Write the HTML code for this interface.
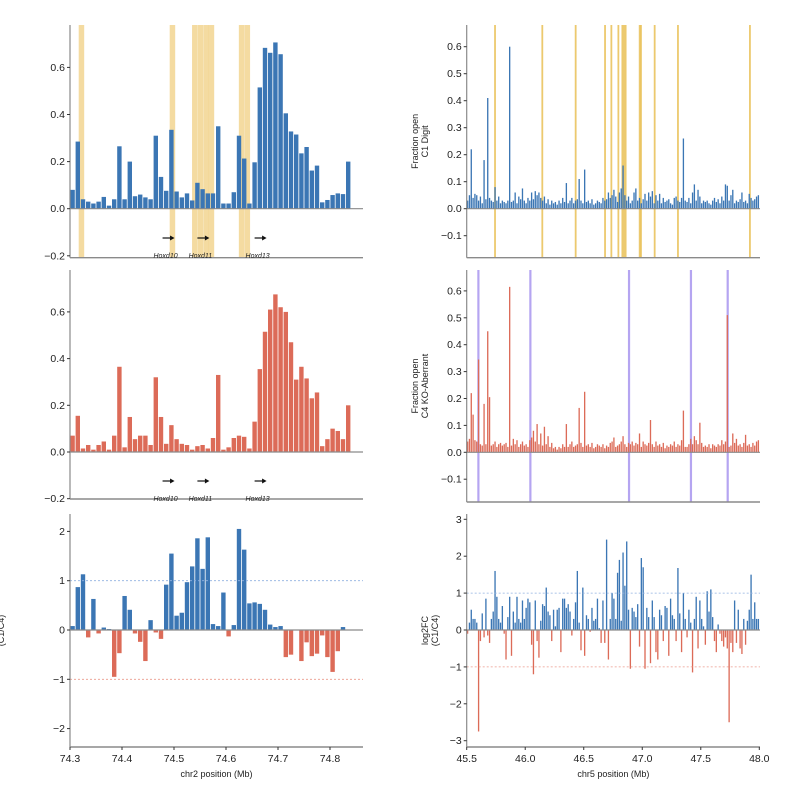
<!DOCTYPE html>
<html><head><meta charset="utf-8">
<style>
html,body{margin:0;padding:0;background:#fff;}
svg{display:block;font-family:"Liberation Sans",sans-serif;}
</style></head>
<body>
<svg id="chart" width="800" height="800" viewBox="0 0 800 800"></svg>
<script>
// ---- Left (chr2 HoxD) data: 0.01 Mb bins starting at 74.30 ----
const leftStart = 74.30;
const leftBin = 0.01;
const c1Left = [0.08,0.285,0.04,0.03,0.022,0.03,0.05,0.013,0.04,0.265,0.04,0.2,0.053,0.06,0.048,0.04,0.31,0.135,0.076,0.335,0.073,0.048,0.065,0.035,0.11,0.083,0.065,0.065,0.35,0.022,0.022,0.07,0.31,0.213,0.022,0.197,0.515,0.683,0.662,0.706,0.656,0.405,0.328,0.315,0.235,0.262,0.162,0.183,0.027,0.037,0.058,0.065,0.062,0.2];
const c4Left = [0.07,0.155,0.015,0.03,0.01,0.03,0.045,0.01,0.07,0.365,0.02,0.15,0.055,0.07,0.07,0.03,0.32,0.15,0.035,0.115,0.055,0.035,0.03,0.01,0.025,0.03,0.015,0.06,0.33,0.01,0.02,0.06,0.07,0.065,0.015,0.13,0.355,0.515,0.61,0.675,0.62,0.6,0.47,0.31,0.365,0.315,0.23,0.255,0.025,0.055,0.1,0.09,0.055,0.2];
const fcLeft = [0.08,0.87,1.13,-0.15,0.63,-0.07,0.05,0.02,-0.95,-0.47,0.69,0.41,-0.07,-0.24,-0.63,0.2,-0.05,-0.18,0.92,1.55,0.29,0.35,0.97,1.29,1.86,1.24,1.88,0.12,0.08,0.76,-0.13,0.1,2.05,1.63,0.54,0.56,0.53,0.41,0.11,0.06,0.08,-0.55,-0.5,0,-0.63,-0.25,-0.53,-0.48,-0.11,-0.55,-0.85,-0.43,0.06,0];
const leftHighlights = [74.322,74.497,74.540,74.551,74.562,74.572,74.630,74.641];
const genes = ["Hoxd10","Hoxd11","Hoxd13"];
const geneStarts = [74.478,74.545,74.655];
const leftTicks = [74.3,74.4,74.5,74.6,74.7,74.8];

// ---- Right (chr5) data ----
const rightStart = 45.5;
const rightBin = 0.015625;
const c1Right = [0.03,0.05,0.22,0.04,0.055,0.05,0.03,0.045,0.02,0.18,
0.035,0.41,0.04,0.03,0.025,0.08,0.03,0.045,0.02,0.03,
0.025,0.02,0.03,0.6,0.025,0.03,0.06,0.02,0.045,0.035,
0.075,0.03,0.02,0.04,0.03,0.06,0.035,0.065,0.05,0.06,
0.04,0.03,0.045,0.02,0.035,0.015,0.03,0.02,0.025,0.015,
0.03,0.02,0.04,0.025,0.095,0.02,0.03,0.04,0.02,0.03,
0.035,0.11,0.03,0.02,0.145,0.025,0.03,0.02,0.035,0.015,
0.02,0.03,0.025,0.02,0.04,0.03,0.035,0.06,0.04,0.05,
0.07,0.045,0.025,0.06,0.075,0.16,0.05,0.03,0.045,0.02,
0.03,0.06,0.075,0.03,0.04,0.02,0.035,0.055,0.03,0.06,
0.045,0.065,0.02,0.05,0.03,0.055,0.02,0.04,0.025,0.03,
0.035,0.02,0.015,0.04,0.045,0.03,0.025,0.04,0.26,0.03,
0.025,0.04,0.02,0.06,0.09,0.03,0.07,0.045,0.02,0.03,
0.025,0.03,0.02,0.015,0.03,0.04,0.025,0.035,0.02,0.045,
0.03,0.09,0.085,0.03,0.05,0.07,0.02,0.03,0.025,0.035,
0.06,0.025,0.03,0.02,0.055,0.04,0.03,0.035,0.045,0.05];
const c4Right = [0.04,0.05,0.22,0.14,0.045,0.04,0.345,0.03,0.025,0.18,
0.03,0.45,0.205,0.025,0.03,0.04,0.02,0.03,0.035,0.025,
0.03,0.035,0.02,0.615,0.025,0.05,0.03,0.045,0.02,0.03,
0.04,0.025,0.03,0.02,0.045,0.055,0.08,0.04,0.105,0.03,
0.07,0.025,0.095,0.03,0.06,0.02,0.035,0.015,0.02,0.01,
0.02,0.015,0.03,0.02,0.105,0.02,0.03,0.04,0.02,0.025,
0.03,0.165,0.035,0.02,0.225,0.025,0.03,0.02,0.035,0.015,
0.02,0.03,0.025,0.02,0.03,0.015,0.025,0.02,0.035,0.04,
0.055,0.02,0.025,0.03,0.04,0.06,0.03,0.02,0.035,0.03,
0.04,0.025,0.035,0.03,0.07,0.02,0.04,0.03,0.025,0.035,
0.12,0.03,0.02,0.04,0.025,0.03,0.02,0.035,0.015,0.025,
0.02,0.03,0.025,0.04,0.02,0.03,0.025,0.045,0.155,0.02,
0.02,0.03,0.05,0.03,0.06,0.045,0.03,0.11,0.035,0.02,
0.025,0.02,0.03,0.015,0.03,0.025,0.02,0.03,0.025,0.045,
0.03,0.04,0.51,0.02,0.025,0.07,0.035,0.05,0.025,0.03,
0.02,0.035,0.065,0.025,0.03,0.02,0.035,0.025,0.04,0.045];
const fcRight = [-0.1,0.2,0.55,0.3,0.3,0.2,-2.75,-0.3,0.45,-0.2,
0.85,-0.15,-0.35,0.3,0.5,1.6,0.9,0.3,0.2,0.65,
-0.1,-0.8,0.35,0.9,-0.7,0.5,0.2,0.9,0.3,0.2,
0.8,0.3,0.6,0.85,0.75,-0.4,-1.2,0.8,-0.3,-0.75,
0.25,0.7,0.65,1.15,0.5,0.4,-0.3,0.55,0.1,0.55,
0.6,-0.6,0.85,0.85,0.6,0.7,0.5,-0.15,0.3,0.75,
1.6,0.2,-0.55,1.15,-0.7,0.4,0.3,-0.05,0.6,0.25,
0.3,0.85,0.05,-0.35,0.8,-0.35,2.45,-0.8,0.3,1.0,
0.85,0.3,1.55,1.9,0.25,2.1,1.2,2.4,0.55,-1.05,
0.6,0.5,0.35,0.7,-0.45,1.95,1.7,-1.05,0.6,0.35,
-0.9,0.8,0.35,-0.6,-0.8,0.55,0.4,-0.3,0.65,0.6,
-0.7,0.85,0.4,0.3,-0.3,1.68,0.45,-0.6,1.0,0.3,
-0.2,0.55,0.2,-1.15,0.3,0.9,-0.5,0.8,0.3,0.1,
-0.4,1.05,0.5,1.1,0.35,-0.3,-0.6,0.15,-0.1,-0.3,
-0.45,-0.2,-0.5,-2.5,-0.35,-0.6,0.8,-0.35,0.55,-0.5,
-0.65,0.3,-0.4,0.25,0.55,1.5,0.3,0.75,0.3,0.3];
const rightHighlightsC1 = [45.742,46.146,46.431,46.682,46.736,46.796,46.830,46.844,46.858,46.978,46.989,47.106,47.305,47.920];
const rightHighlightsC4 = [45.600,46.044,46.887,47.416,47.730];
const rightTicks = [45.5,46.0,46.5,47.0,47.5,48.0];

const BLUE="#3b76b4", RED="#dc6b58", YEL="#f0cf82", PUR="#ad9bf0", AX="#8a8a8a";
const svg=document.getElementById('chart');
const NS="http://www.w3.org/2000/svg";
function mk(tag,attrs,parent){const e=document.createElementNS(NS,tag);for(const k in attrs)e.setAttribute(k,attrs[k]);(parent||svg).appendChild(e);return e;}

function linX(d0,d1,p0,p1){return v=>p0+(v-d0)/(d1-d0)*(p1-p0);}
function linY(zeroPx,pxPerUnit){return v=>zeroPx-v*pxPerUnit;}

function panel(cfg){
  const g=mk('g',{});
  
  
  const x=cfg.x, y=cfg.y;
  (cfg.highlights||[]).forEach(h=>{
    const r=mk('rect',{x:x(h)-cfg.hw/2,y:cfg.top,width:cfg.hw,height:cfg.bottom-cfg.top,fill:cfg.hcol,opacity:cfg.hop},g);
    
    
  });
  cfg.values.forEach((v,i)=>{
    const pos=cfg.start+i*cfg.bin;
    const x0=x(pos), x1=x(pos+cfg.bin);
    const y0=y(0), yv=y(v);
    const col = cfg.split ? (v>=0?BLUE:RED) : cfg.color;
    const r=mk('rect',{x:x0+cfg.gap/2,y:Math.min(y0,yv),width:Math.max(0.6,x1-x0-cfg.gap),height:Math.abs(y0-yv),fill:col,opacity:cfg.op||1},g);
    
    
  });
  mk('line',{x1:cfg.x0,x2:cfg.x1,y1:y(0),y2:y(0),stroke:AX,'stroke-width':1.2},g);
  if(cfg.dashed){
    mk('line',{x1:cfg.x0,x2:cfg.x1,y1:y(1),y2:y(1),stroke:"#8fb0e0",'stroke-width':0.8,'stroke-dasharray':'2,2'},g);
    mk('line',{x1:cfg.x0,x2:cfg.x1,y1:y(-1),y2:y(-1),stroke:"#ec9a8c",'stroke-width':0.8,'stroke-dasharray':'2,2'},g);
  }
  mk('line',{x1:cfg.x0,x2:cfg.x0,y1:cfg.top,y2:cfg.bottom,stroke:AX,'stroke-width':1.2},g);
  mk('line',{x1:cfg.x0,x2:cfg.x1,y1:cfg.bottom,y2:cfg.bottom,stroke:AX,'stroke-width':1.4},g);
  cfg.yticks.forEach(t=>{
    const yy=y(t);
    mk('line',{x1:cfg.x0-3,x2:cfg.x0,y1:yy,y2:yy,stroke:"#333",'stroke-width':1},g);
    const tx=mk('text',{x:cfg.x0-5,y:yy+3.5,'text-anchor':'end','font-size':10.5,fill:"#222"},g);
    tx.textContent=(t<0?'\u2212':'')+Math.abs(t).toFixed(cfg.ydec);
    
    
  });
  (cfg.xticks||[]).forEach(t=>{
    const xx=x(t);
    mk('line',{x1:xx,x2:xx,y1:cfg.bottom,y2:cfg.bottom+3,stroke:"#333",'stroke-width':1},g);
    const tx=mk('text',{x:xx,y:cfg.bottom+15,'text-anchor':'middle','font-size':10.5,fill:"#222"},g);
    tx.textContent=t.toFixed(1);
    
    
  });
  if(cfg.xlabel){
    const tx=mk('text',{x:(cfg.x0+cfg.x1)/2,y:cfg.bottom+30,'text-anchor':'middle','font-size':9,fill:"#222"},g);
    tx.textContent=cfg.xlabel;
    
    
  }
  if(cfg.ylabel){
    const cy=(cfg.top+cfg.bottom)/2;
    cfg.ylabel.forEach((line,k)=>{
      const lx=cfg.ylx+k*10;
      const tx=mk('text',{x:lx,y:cy,'text-anchor':'middle','font-size':9,fill:"#222",transform:`rotate(-90 ${lx} ${cy})`},g);
      tx.textContent=line;
      
      
    });
  }
  if(cfg.genes){
    genes.forEach((gn,k)=>{
      const xs=x(geneStarts[k]);
      const ay=cfg.geneY;
      mk('line',{x1:xs,x2:xs+10,y1:ay,y2:ay,stroke:"#111",'stroke-width':1.2},g);
      mk('path',{d:`M${xs+12},${ay} L${xs+7.5},${ay-2.5} L${xs+7.5},${ay+2.5} Z`,fill:"#111"},g);
      const tx=mk('text',{x:xs+3,y:ay+20,'text-anchor':'middle','font-size':7,'font-style':'italic',fill:"#222"},g);
      tx.textContent=gn;
      
      
    });
  }
}

const LX0=70, LX1=363, RX0=466.7, RX1=760;
const lx=linX(74.3,74.8,70,330);
const rx=linX(45.5,48.0,466.7,759.3);

panel({name:'c1-hoxd-panel',x:lx,y:linY(208.7,235.5),values:c1Left,start:leftStart,bin:leftBin,gap:0.8,color:BLUE,
  x0:LX0,x1:LX1,top:25,bottom:257.7,yticks:[-0.2,0,0.2,0.4,0.6],ydec:1,highlights:leftHighlights,hw:5.5,hcol:YEL,hop:0.75,genes:true,geneY:238});
panel({name:'c4-hoxd-panel',x:lx,y:linY(452,233.5),values:c4Left,start:leftStart,bin:leftBin,gap:0.8,color:RED,
  x0:LX0,x1:LX1,top:270,bottom:499,yticks:[-0.2,0,0.2,0.4,0.6],ydec:1,genes:true,geneY:481});
panel({name:'log2fc-hoxd-panel',x:lx,y:linY(630,49.3),values:fcLeft,start:leftStart,bin:leftBin,gap:0.8,split:true,
  x0:LX0,x1:LX1,top:514,bottom:747,yticks:[-2,-1,0,1,2],ydec:0,dashed:true,xticks:leftTicks,xlabel:'chr2 position (Mb)',ylabel:['(C1/C4)'],ylx:4});

panel({name:'c1-chr5-panel',x:rx,y:linY(208.7,270),values:c1Right,start:rightStart,bin:rightBin,gap:0.5,color:BLUE,
  x0:RX0,x1:RX1,top:25,bottom:257.7,yticks:[-0.1,0,0.1,0.2,0.3,0.4,0.5,0.6],ydec:1,highlights:rightHighlightsC1,hw:1.8,hcol:"#e9bf55",hop:0.85,ylabel:['Fraction open','C1 Digit'],ylx:418});
panel({name:'c4-chr5-panel',x:rx,y:linY(452.3,269),values:c4Right,start:rightStart,bin:rightBin,gap:0.5,color:RED,
  x0:RX0,x1:RX1,top:270,bottom:502,yticks:[-0.1,0,0.1,0.2,0.3,0.4,0.5,0.6],ydec:1,highlights:rightHighlightsC4,hw:2.2,hcol:PUR,hop:0.9,ylabel:['Fraction open','C4 KO-Aberrant'],ylx:418});
panel({name:'log2fc-chr5-panel',x:rx,y:linY(630,36.9),values:fcRight,start:rightStart,bin:rightBin,gap:0.5,split:true,
  x0:RX0,x1:RX1,top:514,bottom:747,yticks:[-3,-2,-1,0,1,2,3],ydec:0,dashed:true,xticks:rightTicks,xlabel:'chr5 position (Mb)',ylabel:['log2FC','(C1/C4)'],ylx:428});
</script>
</body></html>
